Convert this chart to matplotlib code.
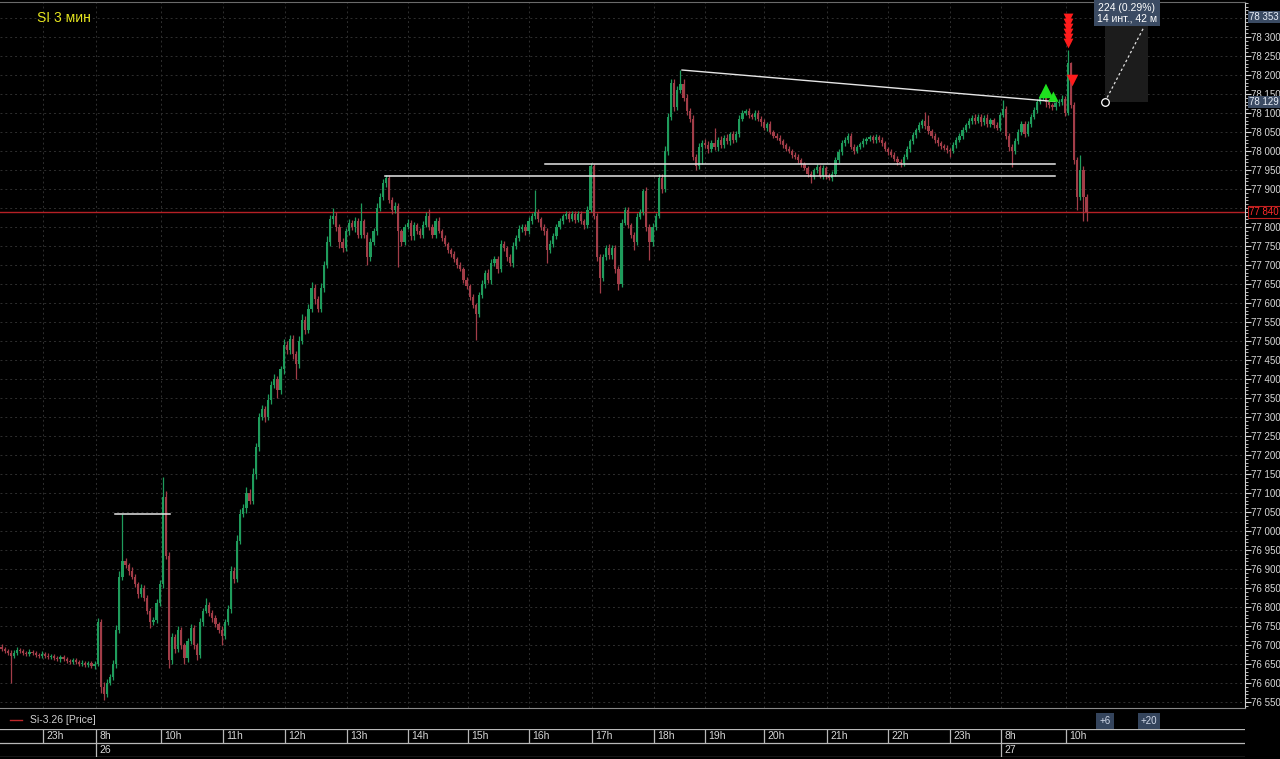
import matplotlib
matplotlib.use("Agg")
import matplotlib.pyplot as plt
from matplotlib.lines import Line2D
from matplotlib.ticker import MultipleLocator
import numpy as np

plt.rcParams['font.family'] = ['Liberation Sans Narrow', 'Liberation Sans', 'DejaVu Sans']

# ---------------- data (Si-3.26, 3-minute candles) ----------------
first_open = 76695
closes = [
    76690, 76685, 76680, 76672, 76680, 76688, 76684, 76680, 76676, 76682,
    76678, 76674, 76670, 76676, 76672, 76668, 76672, 76666, 76662, 76668,
    76664, 76658, 76655, 76660, 76656, 76650, 76654, 76648, 76652, 76646,
    76650, 76760, 76590, 76570, 76600, 76615, 76650, 76740, 76880, 76920,
    76910, 76895, 76880, 76860, 76835, 76850, 76825, 76790, 76760, 76765,
    76810, 76860, 77090, 76935, 76660, 76720, 76690, 76740, 76700, 76665,
    76710, 76745, 76700, 76675, 76760, 76790, 76805, 76785, 76770, 76755,
    76740, 76725, 76760, 76795, 76895, 76875, 76975, 77045, 77060, 77100,
    77080, 77150, 77220, 77300, 77320, 77300, 77345, 77385, 77400, 77370,
    77425, 77490, 77475, 77505, 77465, 77440, 77500, 77555, 77530, 77585,
    77640, 77610, 77585, 77640, 77700, 77760, 77820, 77830, 77800, 77760,
    77745, 77790, 77810, 77800, 77815, 77780, 77815, 77780, 77720, 77760,
    77790, 77850, 77880, 77915, 77930, 77870, 77845, 77855, 77790, 77760,
    77800, 77810, 77775, 77805, 77790, 77780, 77805, 77830, 77800, 77780,
    77815, 77790, 77770, 77755, 77740, 77730, 77715, 77700, 77690, 77660,
    77645, 77615, 77595, 77570, 77620, 77650, 77680, 77660, 77705, 77715,
    77690, 77755, 77745, 77720, 77705, 77750, 77770, 77795, 77800, 77790,
    77815, 77828, 77840, 77820, 77800, 77790, 77740, 77755, 77775, 77800,
    77815, 77828, 77835, 77822, 77835, 77818, 77835, 77815, 77805, 77845,
    77960, 77830, 77720, 77665, 77720, 77745, 77725, 77745, 77690, 77650,
    77810, 77845, 77805, 77780, 77760, 77826, 77840, 77895, 77800, 77760,
    77800, 77830, 77930, 77900, 78000, 78090, 78180, 78115, 78160, 78175,
    78140, 78105, 78085, 77985, 77960, 78010, 78020, 78015, 78005, 78020,
    78010, 78030, 78015, 78035, 78025, 78045, 78030, 78045, 78085, 78100,
    78105, 78095, 78090, 78100, 78085, 78075, 78060, 78070, 78050, 78040,
    78035, 78025, 78015, 78005, 78000, 77990, 77985, 77975, 77965, 77955,
    77940, 77932, 77950, 77958, 77935, 77955, 77935, 77930, 77940, 77975,
    77998, 78020, 78030, 78040, 78010, 78000, 78010, 78018, 78025, 78032,
    78037, 78028, 78036, 78030, 78020, 78005, 77998, 77990, 77980, 77972,
    77968, 77985, 78005, 78025, 78042, 78055, 78068, 78078, 78065, 78052,
    78040, 78030, 78020, 78012, 78008, 78003, 78000, 78015, 78030, 78040,
    78055, 78068, 78078, 78088, 78080, 78090, 78075, 78088, 78070, 78082,
    78068, 78060, 78095, 78110, 78040, 78010, 78000, 78025, 78050, 78070,
    78045, 78070, 78090, 78108, 78130, 78142, 78150, 78130, 78120, 78115,
    78125, 78130, 78138, 78100, 78232, 78120, 77976, 77880, 77950, 77880,
    77840,
]
wick_up = [
    8, 6, 5, 6, 8, 6, 5, 6, 5, 7,
    5, 6, 5, 7, 5, 6, 5, 4, 6, 5,
    6, 5, 4, 6, 5, 5, 6, 4, 5, 6,
    8, 10, 8, 12, 10, 8, 10, 12, 15, 125,
    8, 6, 10, 8, 6, 10, 8, 6, 8, 10,
    10, 12, 52, 15, 10, 12, 8, 10, 8, 6,
    8, 10, 8, 6, 10, 8, 20, 8, 6, 8,
    6, 10, 8, 10, 12, 10, 15, 12, 10, 15,
    10, 15, 12, 10, 12, 10, 15, 10, 12, 8,
    10, 15, 10, 12, 10, 8, 12, 15, 10, 12,
    15, 10, 8, 12, 10, 15, 12, 20, 10, 8,
    10, 8, 10, 8, 10, 8, 48, 6, 8, 10,
    8, 12, 10, 10, 7, 8, 8, 10, 8, 6,
    8, 10, 8, 8, 6, 8, 10, 10, 18, 8,
    8, 10, 6, 8, 6, 6, 8, 6, 8, 6,
    8, 6, 8, 6, 10, 10, 8, 10, 10, 8,
    8, 10, 8, 6, 8, 10, 8, 10, 8, 8,
    10, 10, 57, 8, 6, 8, 8, 10, 10, 8,
    8, 6, 6, 8, 6, 8, 6, 8, 6, 10,
    9, 5, 8, 10, 10, 8, 10, 8, 8, 8,
    12, 8, 8, 6, 8, 10, 8, 5, 10, 8,
    10, 8, 10, 10, 12, 10, 10, 10, 10, 38,
    15, 10, 8, 10, 8, 10, 8, 12, 10, 10,
    40, 8, 10, 8, 10, 6, 8, 8, 10, 8,
    6, 8, 6, 8, 8, 6, 8, 6, 8, 6,
    6, 8, 6, 6, 8, 6, 6, 8, 6, 6,
    6, 8, 6, 8, 6, 8, 6, 6, 8, 10,
    8, 8, 6, 8, 6, 8, 6, 6, 8, 6,
    6, 6, 8, 6, 8, 6, 6, 8, 6, 6,
    6, 8, 8, 6, 8, 6, 8, 6, 25, 30,
    6, 6, 6, 6, 6, 8, 6, 8, 8, 6,
    8, 6, 8, 6, 8, 6, 8, 6, 8, 6,
    6, 8, 8, 24, 8, 6, 8, 8, 8, 10,
    8, 8, 6, 8, 6, 8, 8, 6, 8, 6,
    6, 6, 8, 6, 33, 3, 10, 8, 40, 10,
    6,
]
wick_dn = [
    6, 5, 5, 72, 6, 5, 6, 5, 6, 5,
    5, 6, 5, 4, 6, 5, 5, 6, 5, 6,
    5, 6, 4, 5, 6, 5, 4, 6, 5, 6,
    8, 5, 15, 14, 8, 6, 8, 10, 8, 10,
    8, 10, 6, 8, 10, 8, 10, 8, 15, 8,
    6, 8, 10, 8, 20, 10, 12, 8, 10, 15,
    10, 8, 10, 15, 8, 10, 6, 8, 10, 8,
    8, 25, 10, 8, 10, 12, 8, 10, 8, 12,
    10, 8, 12, 10, 8, 12, 8, 10, 8, 20,
    10, 12, 8, 10, 12, 40, 10, 8, 12, 10,
    8, 12, 10, 8, 10, 8, 10, 12, 10, 15,
    10, 8, 10, 8, 12, 8, 10, 8, 20, 10,
    8, 10, 8, 8, 10, 8, 10, 8, 95, 10,
    8, 6, 10, 8, 8, 10, 8, 6, 8, 10,
    8, 6, 8, 6, 8, 8, 6, 8, 6, 8,
    8, 8, 8, 67, 8, 8, 10, 8, 10, 8,
    10, 8, 8, 10, 8, 10, 8, 6, 8, 10,
    8, 6, 6, 8, 8, 10, 35, 8, 8, 6,
    6, 6, 6, 8, 6, 8, 6, 8, 10, 8,
    5, 8, 10, 38, 8, 8, 10, 8, 10, 16,
    8, 6, 8, 10, 20, 8, 6, 8, 10, 47,
    10, 8, 6, 10, 8, 10, 8, 10, 8, 8,
    8, 10, 8, 10, 10, 8, 45, 8, 10, 8,
    8, 10, 8, 8, 6, 8, 8, 6, 8, 6,
    6, 8, 6, 8, 6, 8, 6, 8, 6, 6,
    6, 6, 8, 6, 6, 8, 6, 6, 8, 6,
    8, 16, 6, 8, 6, 8, 8, 6, 8, 6,
    6, 8, 6, 8, 6, 8, 6, 6, 8, 6,
    6, 8, 6, 6, 8, 6, 8, 6, 6, 8,
    10, 8, 6, 8, 6, 8, 6, 8, 6, 8,
    6, 8, 6, 8, 6, 8, 15, 6, 8, 6,
    8, 6, 8, 6, 8, 6, 8, 6, 8, 6,
    8, 6, 8, 6, 8, 10, 42, 8, 6, 8,
    8, 6, 8, 6, 8, 6, 8, 15, 8, 6,
    8, 6, 8, 8, 5, 8, 10, 35, 10, 65,
    25,
]

hour_ticks = [13.4, 30.5, 51.5, 71.5, 91.5, 111.5, 131.1, 150.5, 170.1, 190.5,
              210.5, 226.9, 246.1, 266.3, 286.0, 306.0, 322.5, 343.5]
hour_labels = ['23h', '8h', '10h', '11h', '12h', '13h', '14h', '15h', '16h', '17h',
               '18h', '19h', '20h', '21h', '22h', '23h', '8h', '10h']
day_ticks = [30.5, 322.5]
day_labels = ['26', '27']

# drawn levels / trend line
short_level = (36.6, 54.3, 77045)
level_lines = [(123.7, 339.8, 77934), (175.3, 339.8, 77966)]
trend_line = ((219.5, 78213), (339.8, 78130))
last_price = 77840
# signals
green_sig_x = [336.9, 339.3]
green_sig_y = [78158, 78143]
red_stack_x = 344
red_stack_y = [78350, 78337, 78324, 78311, 78298, 78285]
red_sig_x = [345.3]
red_sig_y = [78188]
# measurement tool
meas_x0, meas_x1 = 355.9, 369.8
meas_p0, meas_p1 = 78129, 78353
meas_text = '224 (0.29%)\n14 инт., 42 м'

# ---------------- figure ----------------
W, H = 1280, 759
def fx(px): return px / W
def fy(py): return 1 - py / H

fig = plt.figure(figsize=(W / 100, H / 100), dpi=100, facecolor='black')
ax = fig.add_axes([0, fy(708), 1245 / W, (708 - 2) / H])
ax.set_facecolor('black')

n = len(closes)
c = np.array(closes, dtype=float)
o = np.concatenate([[first_open], c[:-1]])
hi = np.maximum(o, c) + np.array(wick_up[:n])
lo = np.minimum(o, c) - np.array(wick_dn[:n])
x = np.arange(n)
bull = '#1f9c5c'
bear = '#a23d48'
cols = [bull if cc >= oo else bear for oo, cc in zip(o, c)]

ymin, ymax = 76534.3, 78392.0
ax.set_xlim(-0.5, 401.1)
ax.set_ylim(ymin, ymax)

# grid
price_grid = np.arange(76550, 78400, 50)
for p in price_grid:
    ax.axhline(p, color='#2f2f2f', lw=0.7, ls=(0, (2, 3)), zorder=0)
for t in hour_ticks:
    ax.axvline(t, color='#2f2f2f', lw=0.7, ls=(0, (2, 3)), zorder=0)

# candles
ax.vlines(x, lo, hi, colors=cols, lw=0.9, zorder=2)
ax.bar(x, np.maximum(np.abs(c - o), 2.0), bottom=np.minimum(o, c), width=0.7,
       color=cols, linewidth=0, zorder=3)

# levels
lc = '#e6e6e6'
ax.plot([short_level[0], short_level[1]], [short_level[2]] * 2, color=lc, lw=1.1, zorder=4)
for x0, x1, p in level_lines:
    ax.plot([x0, x1], [p, p], color=lc, lw=1.1, zorder=4)
ax.plot([trend_line[0][0], trend_line[1][0]], [trend_line[0][1], trend_line[1][1]],
        color=lc, lw=1.0, zorder=4)
ax.axhline(last_price, color='#b52025', lw=1.0, zorder=1)

# signals
ax.scatter(green_sig_x, green_sig_y, marker='^', s=[110, 55], color='#1fe01f', zorder=6, linewidths=0)
ax.scatter([red_stack_x] * len(red_stack_y), red_stack_y, marker='v', s=50, color='#ff1c1c',
           zorder=6, linewidths=0)
ax.scatter(red_sig_x, red_sig_y, marker='v', s=70, color='#ff1c1c', zorder=6, linewidths=0)

# measurement tool
ax.add_patch(plt.Rectangle((meas_x0, meas_p0), meas_x1 - meas_x0, 78333 - meas_p0,
                           facecolor='#1c1c1c', edgecolor='none', zorder=1))
ax.plot([meas_x0, meas_x1 - 1.3], [meas_p0, 78326], color='#e0e0e0', lw=0.9,
        ls=(0, (2, 2)), zorder=5)
ax.scatter([meas_x0], [meas_p0], s=30, facecolor='black', edgecolor='white', lw=0.9, zorder=7)
fig.text(fx(1127), fy(13), meas_text, ha='center', va='center', color='white', fontsize=7.5,
         linespacing=1.1,
         bbox=dict(boxstyle='square,pad=0.25', fc='#3b4b63', ec='none'))

# title
fig.text(fx(37), fy(18), 'SI 3 мин', color='#e6e61e', fontsize=10, va='center')

# axes styling
ax.spines['left'].set_visible(False)
ax.spines['top'].set_color('#6a6a6a')
ax.spines['bottom'].set_color('#8a8a8a')
ax.spines['right'].set_color('#d0d0d0')
ax.spines['right'].set_linewidth(0.8)
ax.set_xticks([])
ax.yaxis.tick_right()
shown = [p for p in np.arange(76550, 78301, 50) if p != 77850]
ax.set_yticks(shown)
ax.set_yticklabels([f'{int(p) // 1000} {int(p) % 1000:03d}' for p in shown])
ax.yaxis.set_minor_locator(MultipleLocator(10))
ax.tick_params(axis='y', which='major', colors='#d8d8d8', labelsize=7, length=4, width=0.8, pad=0.6)
ax.tick_params(axis='y', which='minor', colors='#d8d8d8', length=2.5, width=0.6)

ytr = ax.get_yaxis_transform()
def axis_box(p, txt, fc, tc, ec='none'):
    ax.text(1.0035, p, txt, transform=ytr, ha='left', va='center', fontsize=7, color=tc,
            clip_on=False, zorder=10,
            bbox=dict(boxstyle='square,pad=0.12', fc=fc, ec=ec, lw=0.8))
axis_box(78353, '78 353', '#3b4b63', '#e8eef8')
axis_box(78129, '78 129', '#3b4b63', '#e8eef8')
axis_box(last_price, '77 840', '#000000', '#ff2a2a', ec='#c02020')

# legend row
fig.add_artist(Line2D([fx(10), fx(22)], [fy(720), fy(720)], color='#c0282a', lw=1.0))
fig.text(fx(30), fy(720), 'Si-3.26 [Price]', color='#d0d0d0', fontsize=7.5, va='center')
for px, t in [(1105, '+6'), (1149, '+20')]:
    fig.text(fx(px), fy(721), t, ha='center', va='center', color='#d0d8e8', fontsize=7,
             bbox=dict(boxstyle='square,pad=0.3', fc='#34445c', ec='none'))

# time axis strip
tax = fig.add_axes([0, fy(757), 1245 / W, (757 - 729) / H])
tax.set_xlim(ax.get_xlim())
tax.set_ylim(0, 2)
tax.axis('off')
for yy in [0, 1, 2]:
    tax.axhline(yy, color='#b8b8b8', lw=0.9)
tax.vlines(hour_ticks, 1, 2, color='#b8b8b8', lw=0.9)
tax.vlines(day_ticks, 0, 1, color='#b8b8b8', lw=0.9)
for t, lab in zip(hour_ticks, hour_labels):
    tax.text(t + 1.0, 1.5, lab, color='#d8d8d8', fontsize=7.5, va='center', ha='left')
for t, lab in zip(day_ticks, day_labels):
    tax.text(t + 1.0, 0.5, lab, color='#d8d8d8', fontsize=7.5, va='center', ha='left')

fig.savefig('out.png', dpi=100, facecolor='black')
